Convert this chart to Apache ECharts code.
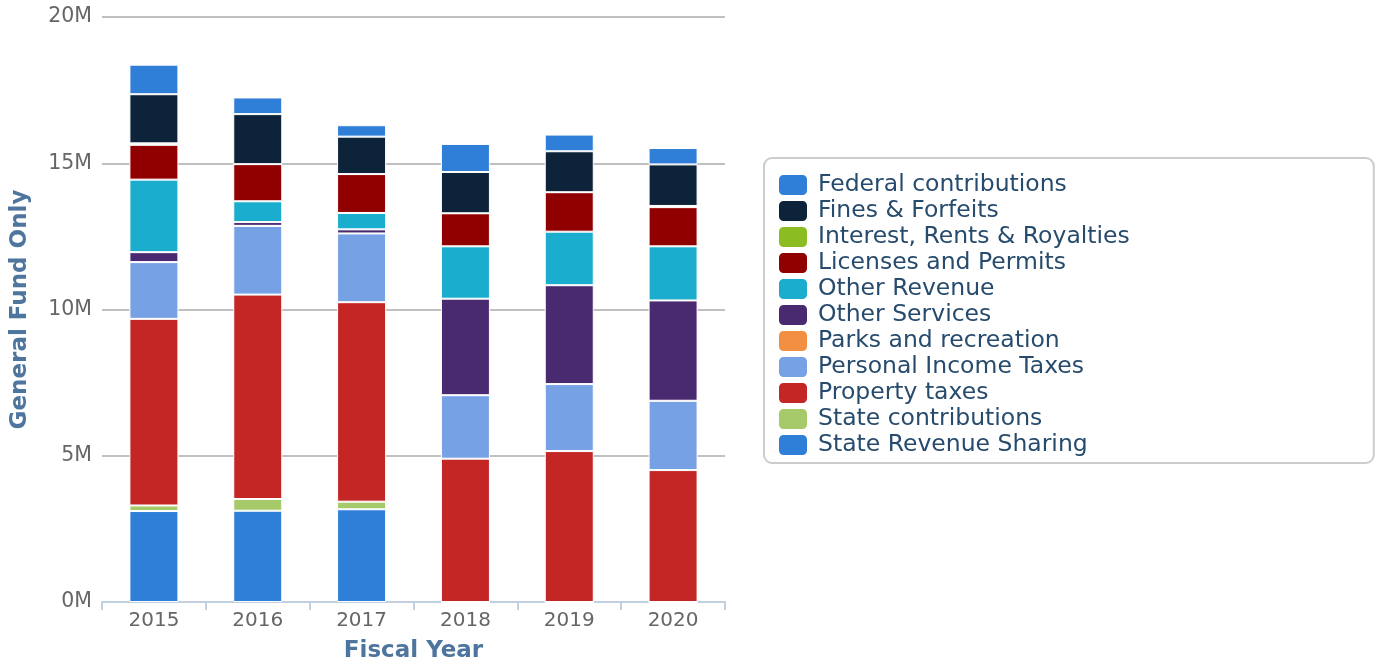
<!DOCTYPE html>
<html><head><meta charset="utf-8">
<script src="https://cdn.jsdelivr.net/npm/echarts@6/dist/echarts.min.js"></script>
<style>html,body{margin:0;padding:0;background:#fff}#c{width:1380px;height:662px}</style>
</head><body><div id="c"></div>
<script>
const years = ['2015','2016','2017','2018','2019','2020'];
const legendOrder = ['Federal contributions','Fines & Forfeits','Interest, Rents & Royalties','Licenses and Permits','Other Revenue','Other Services','Parks and recreation','Personal Income Taxes','Property taxes','State contributions','State Revenue Sharing'];
const colors = {
  'Federal contributions':'#2f7ed8','Fines & Forfeits':'#0d233a','Interest, Rents & Royalties':'#8bbc21',
  'Licenses and Permits':'#910000','Other Revenue':'#1aadce','Other Services':'#492970',
  'Parks and recreation':'#f28f43','Personal Income Taxes':'#77a1e5','Property taxes':'#c42525',
  'State contributions':'#a6c96a','State Revenue Sharing':'#2f7ed8'
};
// values in millions
const stateRevenueSharing = [3.11, 3.12, 3.17, 0, 0, 0];
const stateContributions  = [0.19, 0.40, 0.26, 0, 0, 0];
const propertyTaxes       = [6.38, 6.99, 6.82, 4.90, 5.16, 4.51];
const personalIncomeTaxes = [1.94, 2.35, 2.35, 2.17, 2.29, 2.37];
const parksRecreation     = [0, 0, 0, 0, 0, 0];
const otherServices       = [0.34, 0.13, 0.14, 3.30, 3.38, 3.43];
const otherRevenue        = [2.48, 0.71, 0.56, 1.79, 1.83, 1.85];
const licensesPermits     = [1.19, 1.27, 1.33, 1.13, 1.35, 1.34];
const interestRents       = [0.05, 0, 0, 0, 0, 0.04];
const finesForfeits       = [1.68, 1.71, 1.28, 1.41, 1.40, 1.42];
const federalContrib      = [1.01, 0.57, 0.39, 0.96, 0.57, 0.56];
const yTicks = [0, 5, 10, 15, 20];

const stackData = [
  ['State Revenue Sharing', stateRevenueSharing],
  ['State contributions', stateContributions],
  ['Property taxes', propertyTaxes],
  ['Personal Income Taxes', personalIncomeTaxes],
  ['Parks and recreation', parksRecreation],
  ['Other Services', otherServices],
  ['Other Revenue', otherRevenue],
  ['Licenses and Permits', licensesPermits],
  ['Interest, Rents & Royalties', interestRents],
  ['Fines & Forfeits', finesForfeits],
  ['Federal contributions', federalContrib]
];

const chart = echarts.init(document.getElementById('c'));
chart.setOption({
  animation: false,
  textStyle: {fontFamily: 'DejaVu Sans'},
  grid: {left: 102, right: 655, top: 17, bottom: 60, outerBoundsMode: 'none', containLabel: false},
  legend: {
    orient: 'vertical', left: 764, top: 158,
    data: legendOrder.map(n => ({name: n, itemStyle: {color: colors[n]}})),
    itemWidth: 30, itemHeight: 22, itemGap: 2,
    padding: [15, 244, 6, 13],
    borderColor: '#cccccc', borderWidth: 2, borderRadius: 8,
    textStyle: {color: '#274b6d', fontSize: 23.5, lineHeight: 22, padding: [0, 0, 0, 5], fontFamily: 'DejaVu Sans'},
    icon: 'roundRect', selectedMode: false
  },
  xAxis: {
    type: 'category', data: years,
    name: 'Fiscal Year', nameLocation: 'middle', nameGap: 38,
    nameTextStyle: {color: '#4d759e', fontWeight: 'bold', fontSize: 23},
    axisLine: {lineStyle: {color: '#c0d0e0', width: 2}},
    axisTick: {show: true, length: 8, lineStyle: {color: '#c0d0e0', width: 2}},
    axisLabel: {color: '#666666', fontSize: 20, margin: 9}
  },
  yAxis: {
    type: 'value', min: 0, max: 20, interval: 5,
    name: 'General Fund Only', nameLocation: 'middle', nameGap: 70, nameRotate: 90,
    nameTextStyle: {color: '#4d759e', fontWeight: 'bold', fontSize: 23},
    axisLine: {show: false}, axisTick: {show: false},
    splitLine: {lineStyle: {color: '#c0c0c0', width: 2}},
    axisLabel: {color: '#666666', fontSize: 20.5, margin: 10, padding: [4, 0, 0, 0],
      formatter: v => yTicks.includes(v) ? v + 'M' : ''}
  },
  series: stackData.map(([name, vals]) => ({
    name, type: 'bar', stack: 'total', data: vals, barWidth: 49,
    itemStyle: {color: colors[name], borderColor: '#ffffff', borderWidth: 1}
  }))
});
</script></body></html>
